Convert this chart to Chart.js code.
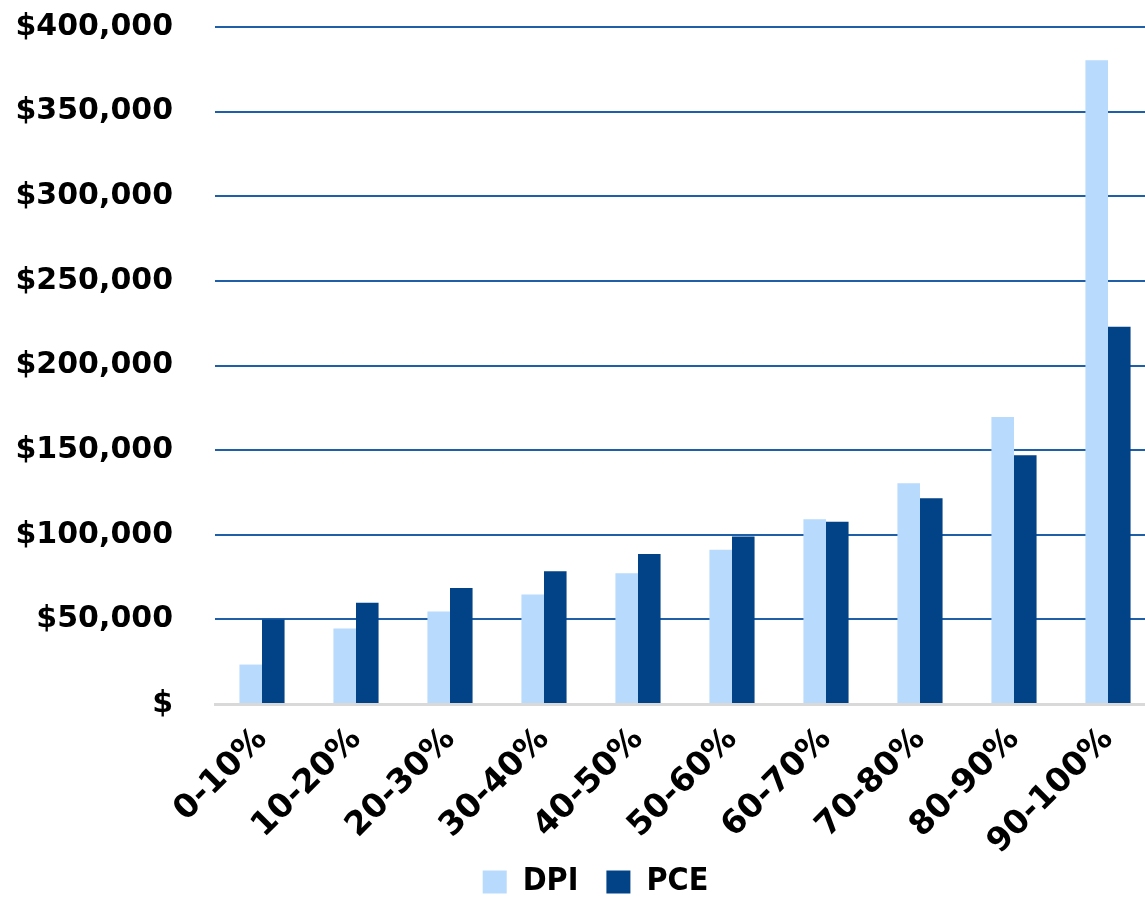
<!DOCTYPE html>
<html lang="en">
<head>
    <meta charset="utf-8">
    <title>DPI och PCE per decil</title>
    <script src="https://cdn.jsdelivr.net/npm/chart.js"></script>
    <style>
        html, body { margin: 0; padding: 0; background: #fff; overflow: hidden; }
        .chart-container { position: relative; width: 1155px; height: 899px; }
    </style>
</head>
<body>
    <div class="chart-container">
        <canvas id="decileChart" width="1155" height="899"></canvas>
    </div>
    <script>
        // inkomstdeciler
        const deciles = ['0-10%', '10-20%', '20-30%', '30-40%', '40-50%',
                         '50-60%', '60-70%', '70-80%', '80-90%', '90-100%'];
        // disponibel inkomst per hushåll
        const dpiValues = [23300, 44600, 54700, 64700, 77300, 91100, 109100, 130400, 169600, 380300];
        // konsumtion per hushåll
        const pceValues = [50000, 59800, 68600, 78500, 88600, 99000, 107700, 121500, 147000, 222900];
        const yTicks = [0, 50000, 100000, 150000, 200000, 250000, 300000, 350000, 400000];

        // flyttar förklaringen lite åt höger och uppåt
        const legendShift = {
            id: 'legendShift',
            afterLayout(chart) {
                const lg = chart.legend;
                lg.left += 18;
                lg.right += 18;
                lg.top -= 16;
                lg.bottom -= 16;
            }
        };

        const ctx = document.getElementById('decileChart');

        new Chart(ctx, {
            type: 'bar',
            data: {
                labels: deciles,
                datasets: [{
                    label: 'DPI',
                    data: dpiValues,
                    backgroundColor: '#b7dafd',
                    categoryPercentage: 0.48,
                    barPercentage: 1.0
                }, {
                    label: 'PCE',
                    data: pceValues,
                    backgroundColor: '#024286',
                    categoryPercentage: 0.48,
                    barPercentage: 1.0
                }]
            },
            plugins: [legendShift],
            options: {
                responsive: false,
                animation: false,
                layout: { padding: { top: 0, left: 0, right: 0, bottom: -25 } },
                scales: {
                    x: {
                        grid: { display: false },
                        border: { color: '#d9d9d9', width: 3 },
                        afterFit: axis => { axis.height = 150; },
                        ticks: {
                            color: '#000',
                            minRotation: 45,
                            maxRotation: 45,
                            padding: 8,
                            font: { family: 'DejaVu Sans', weight: 'bold', size: 33 }
                        }
                    },
                    y: {
                        min: 0,
                        max: 400000,
                        afterBuildTicks: axis => {
                            axis.ticks = yTicks.map(v => ({ value: v }));
                        },
                        afterFit: axis => {
                            axis.width = 215;
                            axis.paddingTop = 27;
                            axis.paddingBottom = 0;
                        },
                        grid: {
                            drawTicks: false,
                            lineWidth: 2,
                            color: c => c.tick && c.tick.value === 0 ? 'rgba(0,0,0,0)' : '#1f5fa8'
                        },
                        border: { display: false },
                        ticks: {
                            color: '#000',
                            padding: 42,
                            font: { family: 'DejaVu Sans', weight: 'bold', size: 30 },
                            callback: v => v === 0 ? '$' : '$' + v.toLocaleString('en-US')
                        }
                    }
                },
                plugins: {
                    legend: {
                        position: 'bottom',
                        labels: {
                            color: '#000',
                            boxWidth: 24,
                            boxHeight: 23,
                            padding: 28,
                            font: { family: "'DejaVu Sans Condensed', 'Liberation Sans', sans-serif", weight: 'bold', size: 32 }
                        }
                    },
                    tooltip: { enabled: false }
                }
            }
        });
    </script>
</body>
</html>
